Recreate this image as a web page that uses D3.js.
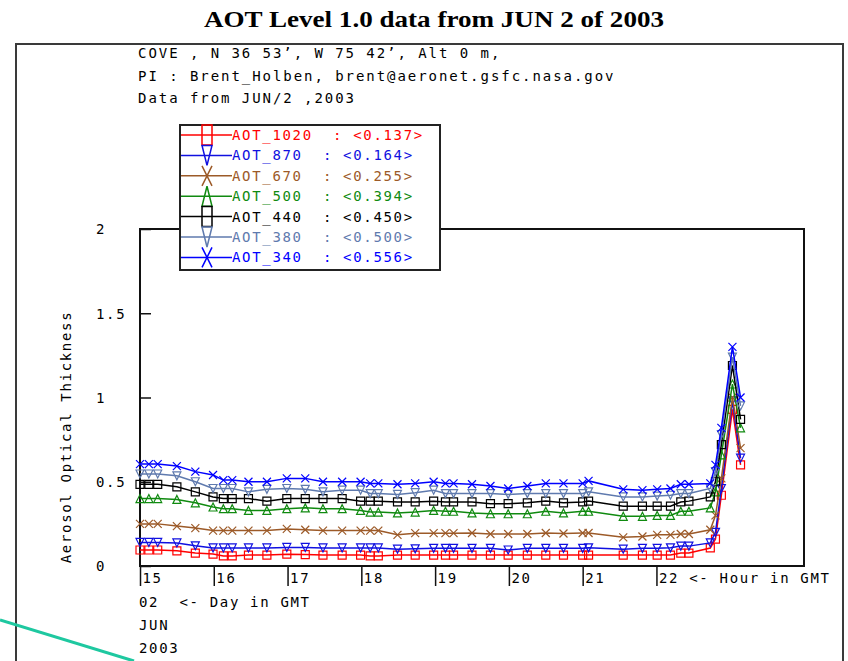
<!DOCTYPE html>
<html>
<head>
<meta charset="utf-8">
<script src="https://cdn.jsdelivr.net/npm/d3@7"></script>
<style>
  html, body { margin: 0; padding: 0; background: #fff; }
  svg { display: block; }
  .mono { font-family: "DejaVu Sans Mono", monospace; font-size: 14px; letter-spacing: 1.67px; white-space: pre; }
  .head { letter-spacing: 1.95px; }
</style>
</head>
<body>
<svg id="chart" width="848" height="661"></svg>
<script>
// Measurement times (hour of day, GMT)
const hours = [15.00, 15.12, 15.24, 15.50, 15.75, 15.99, 16.13, 16.25, 16.47, 16.72,
  16.99, 17.24, 17.48, 17.74, 17.99, 18.12, 18.23, 18.49, 18.73, 18.98,
  19.14, 19.25, 19.50, 19.75, 19.99, 20.25, 20.50, 20.74, 21.00, 21.08,
  21.55, 21.81, 22.01, 22.19, 22.33, 22.44, 22.73, 22.80, 22.88, 23.03, 23.14];

// Aerosol optical thickness per wavelength
const aot1020 = [0.095, 0.095, 0.095, 0.090, 0.077, 0.071, 0.060, 0.060, 0.065, 0.065,
  0.070, 0.068, 0.065, 0.065, 0.065, 0.060, 0.060, 0.065, 0.065, 0.065,
  0.065, 0.065, 0.065, 0.065, 0.065, 0.065, 0.065, 0.065, 0.065, 0.065,
  0.065, 0.065, 0.065, 0.065, 0.077, 0.077, 0.107, 0.16, 0.42, 0.93, 0.60];
const aot870 = [0.140, 0.140, 0.140, 0.137, 0.120, 0.107, 0.107, 0.107, 0.107, 0.107,
  0.110, 0.110, 0.107, 0.107, 0.107, 0.107, 0.107, 0.100, 0.102, 0.105,
  0.105, 0.105, 0.105, 0.105, 0.095, 0.105, 0.105, 0.105, 0.105, 0.108,
  0.100, 0.105, 0.105, 0.108, 0.118, 0.118, 0.137, 0.20, 0.46, 0.98, 0.64];
const aot670 = [0.250, 0.250, 0.250, 0.237, 0.225, 0.210, 0.210, 0.210, 0.210, 0.210,
  0.220, 0.215, 0.210, 0.210, 0.210, 0.210, 0.210, 0.185, 0.195, 0.195,
  0.195, 0.195, 0.196, 0.190, 0.190, 0.190, 0.196, 0.193, 0.196, 0.196,
  0.170, 0.175, 0.185, 0.185, 0.190, 0.190, 0.215, 0.30, 0.52, 1.00, 0.70];
const aot500 = [0.400, 0.400, 0.400, 0.395, 0.375, 0.350, 0.340, 0.340, 0.330, 0.330,
  0.340, 0.345, 0.340, 0.340, 0.330, 0.320, 0.320, 0.315, 0.320, 0.330,
  0.325, 0.325, 0.315, 0.310, 0.310, 0.310, 0.325, 0.315, 0.325, 0.325,
  0.295, 0.295, 0.300, 0.300, 0.325, 0.325, 0.345, 0.44, 0.66, 1.08, 0.82];
const aot440 = [0.485, 0.485, 0.485, 0.470, 0.440, 0.410, 0.400, 0.400, 0.400, 0.385,
  0.400, 0.400, 0.400, 0.400, 0.385, 0.385, 0.385, 0.380, 0.380, 0.385,
  0.380, 0.380, 0.380, 0.370, 0.370, 0.375, 0.385, 0.375, 0.380, 0.385,
  0.355, 0.355, 0.355, 0.355, 0.380, 0.385, 0.410, 0.50, 0.72, 1.19, 0.87];
const aot380 = [0.546, 0.546, 0.546, 0.535, 0.500, 0.460, 0.460, 0.460, 0.440, 0.455,
  0.460, 0.455, 0.440, 0.450, 0.450, 0.430, 0.430, 0.425, 0.435, 0.450,
  0.430, 0.430, 0.430, 0.430, 0.425, 0.430, 0.430, 0.430, 0.430, 0.440,
  0.410, 0.410, 0.415, 0.420, 0.430, 0.430, 0.460, 0.56, 0.78, 1.24, 0.95];
const aot340 = [0.605, 0.605, 0.605, 0.593, 0.560, 0.540, 0.510, 0.510, 0.500, 0.500,
  0.520, 0.520, 0.500, 0.500, 0.500, 0.490, 0.490, 0.485, 0.490, 0.500,
  0.490, 0.490, 0.485, 0.475, 0.460, 0.475, 0.490, 0.490, 0.490, 0.505,
  0.455, 0.450, 0.455, 0.460, 0.485, 0.485, 0.490, 0.60, 0.82, 1.30, 1.00];

const seriesNames = ["AOT_1020", "AOT_870", "AOT_670", "AOT_500", "AOT_440", "AOT_380", "AOT_340"];
const seriesMeans = ["0.137", "0.164", "0.255", "0.394", "0.450", "0.500", "0.556"];
const seriesValues = [aot1020, aot870, aot670, aot500, aot440, aot380, aot340];
const seriesColors = ["#ff0000", "#1010e0", "#9c5a28", "#108a10", "#000000", "#5f7aae", "#0000ff"];
const seriesMarkers = ["square", "tridown", "cross", "triup", "square", "tridown", "cross"];

const hourTicks = [15, 16, 17, 18, 19, 20, 21, 22];
const aotTicks = [0, 0.5, 1, 1.5, 2];
const aotTickLabels = ["0", "0.5", "1", "1.5", "2"];

const titleText = "AOT Level 1.0 data from JUN 2 of 2003";
const headerLines = [
  "COVE , N 36 53\u2019, W 75 42\u2019, Alt 0 m,",
  "PI : Brent_Holben, brent@aeronet.gsfc.nasa.gov",
  "Data from JUN/2 ,2003"
];
const dateLines = ["02  <- Day in GMT", "JUN", "2003"];

const svg = d3.select("#chart");

const x = d3.scaleLinear().domain([15, 24]).range([140, 804]);
const y = d3.scaleLinear().domain([0, 2]).range([566, 229]);

// page frame
svg.append("rect")
  .attr("x", 16).attr("y", 44).attr("width", 827).attr("height", 640)
  .attr("fill", "none").attr("stroke", "#3a3a3a").attr("stroke-width", 2);

// title
svg.append("text")
  .attr("x", 434).attr("y", 27)
  .attr("text-anchor", "middle")
  .attr("font-family", "'Liberation Serif', 'Times New Roman', serif")
  .attr("font-weight", "bold")
  .attr("font-size", 24)
  .attr("textLength", 460)
  .attr("lengthAdjust", "spacingAndGlyphs")
  .text(titleText);

// station header
svg.append("g").selectAll("text").data(headerLines).join("text")
  .attr("class", "mono head")
  .attr("x", 138)
  .attr("y", (d, i) => 58 + i * 22.5)
  .attr("fill", "#000")
  .text(d => d);

// marker paths (w = half width, h = half height)
function markerPath(kind, w, h) {
  const p = d3.path();
  if (kind === "square") {
    p.rect(-w, -h, 2 * w, 2 * h);
  } else if (kind === "triup") {
    p.moveTo(0, -h); p.lineTo(w, h); p.lineTo(-w, h); p.closePath();
  } else if (kind === "tridown") {
    p.moveTo(-w, -h); p.lineTo(w, -h); p.lineTo(0, h); p.closePath();
  } else if (kind === "cross") {
    p.moveTo(-w, -h); p.lineTo(w, h);
    p.moveTo(w, -h); p.lineTo(-w, h);
  }
  return p.toString();
}

// plot frame
svg.append("rect")
  .attr("x", x(15)).attr("y", y(2))
  .attr("width", x(24) - x(15)).attr("height", y(0) - y(2))
  .attr("fill", "none").attr("stroke", "#111").attr("stroke-width", 2);

// y axis: ticks point into the plot, labels left-aligned further out
const yAxis = svg.append("g")
  .attr("transform", `translate(${x(15)},0)`)
  .call(d3.axisLeft(y).tickValues(aotTicks).tickSizeInner(-11).tickSizeOuter(0)
    .tickFormat((d, i) => aotTickLabels[i]));
yAxis.select(".domain").remove();
yAxis.selectAll(".tick line").attr("stroke", "#111").attr("stroke-width", 1.5);
yAxis.selectAll(".tick text")
  .attr("class", "mono")
  .attr("text-anchor", "start")
  .attr("x", -44).attr("dy", "0.34em")
  .attr("fill", "#000");
yAxis.attr("font-family", null).attr("font-size", null);

// y axis title
svg.append("text")
  .attr("class", "mono")
  .attr("transform", "translate(71,437) rotate(-90)")
  .attr("text-anchor", "middle")
  .text("Aerosol Optical Thickness");

// x axis: ticks hang below the plot, labels to the right of each tick
const xAxis = svg.append("g")
  .attr("transform", `translate(0,${y(0)})`)
  .call(d3.axisBottom(x).tickValues(hourTicks).tickSizeInner(20).tickSizeOuter(0)
    .tickFormat(d => d === 22 ? "22 <- Hour in GMT" : String(d)));
xAxis.select(".domain").remove();
xAxis.selectAll(".tick line").attr("stroke", "#111").attr("stroke-width", 1.5);
xAxis.selectAll(".tick text")
  .attr("class", "mono")
  .attr("text-anchor", "start")
  .attr("x", 2).attr("y", 17).attr("dy", 0)
  .attr("fill", "#000");
xAxis.attr("font-family", null).attr("font-size", null);

// day / month / year lines under the hour axis
svg.append("g").selectAll("text").data(dateLines).join("text")
  .attr("class", "mono")
  .attr("xml:space", "preserve")
  .attr("x", 139)
  .attr("y", (d, i) => 607 + i * 23)
  .text(d => d);

// data series: draw the longest wavelengths first
const line = d3.line().x((d, i) => x(hours[i])).y(d => y(d));
const plot = svg.append("g");
seriesValues.forEach((vals, k) => {
  const g = plot.append("g");
  g.append("path")
    .attr("d", line(vals))
    .attr("fill", "none")
    .attr("stroke", seriesColors[k])
    .attr("stroke-width", 1.5);
  g.selectAll("path.mk").data(vals).join("path")
    .attr("class", "mk")
    .attr("transform", (d, i) => `translate(${x(hours[i])},${y(d)})`)
    .attr("d", markerPath(seriesMarkers[k], 4, 4))
    .attr("fill", "none")
    .attr("stroke", seriesColors[k])
    .attr("stroke-width", 1.2);
});

// legend box
const legend = svg.append("g");
legend.append("rect")
  .attr("x", 180).attr("y", 125).attr("width", 260).attr("height", 145)
  .attr("fill", "#fff").attr("stroke", "#222").attr("stroke-width", 2);
seriesNames.forEach((name, k) => {
  const cy = 135 + k * 20.4;
  legend.append("line")
    .attr("x1", 181).attr("x2", 232).attr("y1", cy).attr("y2", cy)
    .attr("stroke", seriesColors[k]).attr("stroke-width", 1.5);
  legend.append("path")
    .attr("transform", `translate(207,${cy})`)
    .attr("d", markerPath(seriesMarkers[k], 5, 10))
    .attr("fill", "none")
    .attr("stroke", seriesColors[k]).attr("stroke-width", 1.5);
  legend.append("text")
    .attr("class", "mono")
    .attr("x", 232).attr("y", cy + 5)
    .attr("fill", seriesColors[k])
    .attr("xml:space", "preserve")
    .text(`${name}  : <${seriesMeans[k]}>`);
});

// accent stroke in the lower-left corner
svg.append("line")
  .attr("x1", 0).attr("y1", 620).attr("x2", 134).attr("y2", 661)
  .attr("stroke", "#1ec8a0").attr("stroke-width", 3);
</script>
</body>
</html>
